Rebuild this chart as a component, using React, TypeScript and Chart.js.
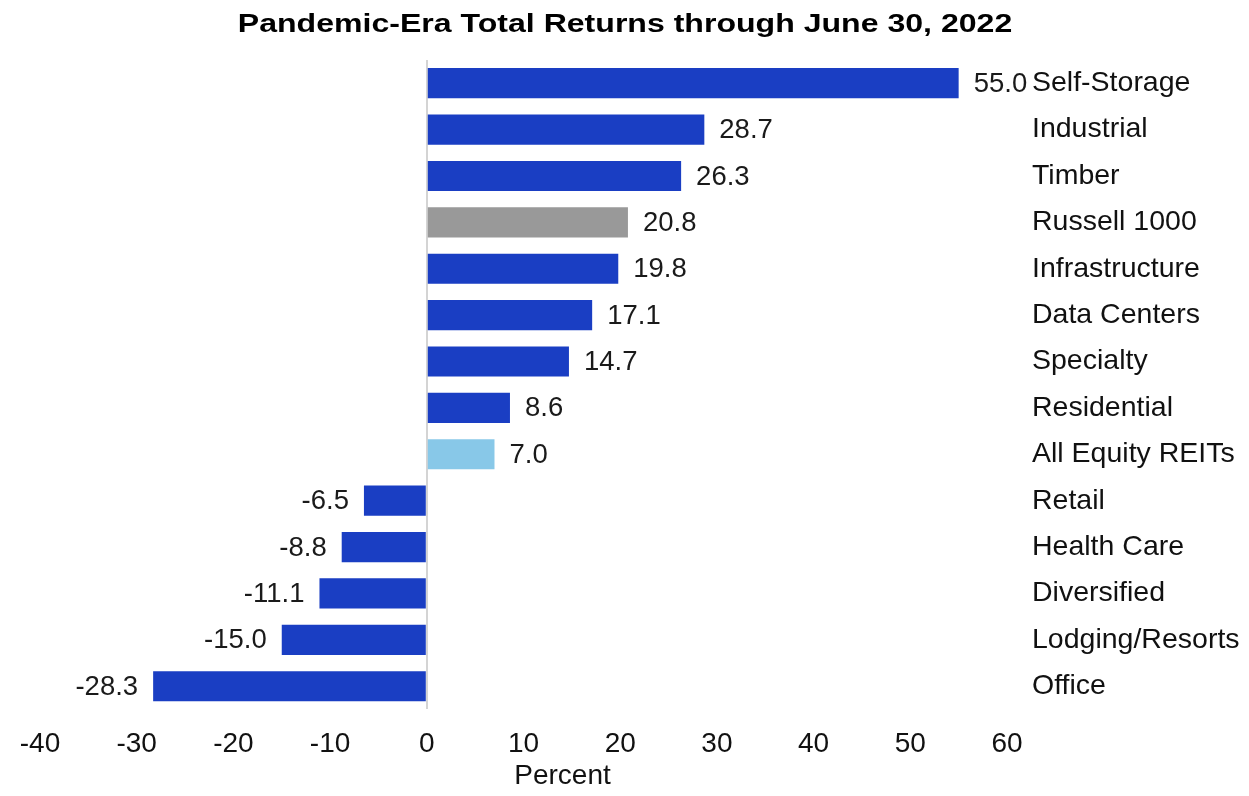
import React, { useEffect, useRef } from "react";
import { Chart, registerables } from "chart.js";

Chart.register(...registerables);

const categories = [
  "Self-Storage",
  "Industrial",
  "Timber",
  "Russell 1000",
  "Infrastructure",
  "Data Centers",
  "Specialty",
  "Residential",
  "All Equity REITs",
  "Retail",
  "Health Care",
  "Diversified",
  "Lodging/Resorts",
  "Office",
];

const returnsPct = [55.0, 28.7, 26.3, 20.8, 19.8, 17.1, 14.7, 8.6, 7.0, -6.5, -8.8, -11.1, -15.0, -28.3];

const BLUE = "#1a3ec3";
const GRAY = "#999999";
const LIGHT_BLUE = "#88c8e8";

const barColors = categories.map((c) =>
  c === "Russell 1000" ? GRAY : c === "All Equity REITs" ? LIGHT_BLUE : BLUE
);

const titleText = "Pandemic-Era Total Returns through June 30, 2022";
const xAxisTitle = "Percent";
const xMin = -40;
const xMax = 60;
const xStep = 10;

const FONT = "'Liberation Sans', Arial, Helvetica, sans-serif";

const textPlugin = {
  id: "customText",
  afterDatasetsDraw(chart: any) {
    const ctx = chart.ctx;
    const meta = chart.getDatasetMeta(0);
    ctx.save();
    ctx.font = `27.5px ${FONT}`;
    ctx.fillStyle = "#1a1a1a";
    ctx.textBaseline = "middle";
    meta.data.forEach((bar: any, i: number) => {
      const v = returnsPct[i];
      const txt = v.toFixed(1);
      if (v >= 0) {
        ctx.textAlign = "left";
        ctx.fillText(txt, bar.x + 15, bar.y + 1);
      } else {
        ctx.textAlign = "right";
        ctx.fillText(txt, bar.x - 15, bar.y + 1);
      }
    });
    ctx.restore();
  },
  afterDraw(chart: any) {
    const ctx = chart.ctx;
    const area = chart.chartArea;
    // Title (horizontally widened as in the reference)
    ctx.save();
    ctx.font = `bold 26.5px ${FONT}`;
    ctx.fillStyle = "#000";
    ctx.textAlign = "center";
    ctx.textBaseline = "alphabetic";
    ctx.translate(625, 32);
    ctx.scale(1.21, 1);
    ctx.fillText(titleText, 0, 0);
    ctx.restore();
    // Axis title
    ctx.save();
    ctx.font = `28px ${FONT}`;
    ctx.fillStyle = "#111";
    ctx.textAlign = "center";
    ctx.textBaseline = "middle";
    ctx.fillText(xAxisTitle, (area.left + area.right) / 2 + 39, 776);
    ctx.restore();
  },
};

export default function App() {
  const canvasRef = useRef<HTMLCanvasElement | null>(null);

  useEffect(() => {
    document.body.style.margin = "0";
    const canvas = canvasRef.current;
    if (!canvas) return;
    const chart = new Chart(canvas, {
      type: "bar",
      data: {
        labels: categories,
        datasets: [
          {
            data: returnsPct,
            backgroundColor: barColors,
            borderWidth: 0,
            barPercentage: 0.65,
            categoryPercentage: 1,
          },
        ],
      },
      options: {
        indexAxis: "y",
        animation: false,
        responsive: true,
        maintainAspectRatio: false,
        layout: { padding: { left: 40, right: 0, top: 60, bottom: 17 } },
        plugins: {
          legend: { display: false },
          tooltip: { enabled: false },
          title: { display: false },
        },
        scales: {
          x: {
            type: "linear",
            min: xMin,
            max: xMax,
            ticks: {
              stepSize: xStep,
              color: "#111",
              font: { family: FONT, size: 28 },
              padding: 18,
            },
            grid: {
              drawTicks: false,
              color: (c: any) => (c.tick && c.tick.value === 0 ? "#d4d4d4" : "rgba(0,0,0,0)"),
              lineWidth: 2,
            },
            border: { display: false },
          },
          y: {
            position: "right",
            ticks: {
              color: "#111",
              font: { family: FONT, size: 28.5 },
              padding: 25,
              crossAlign: "near",
            },
            grid: { display: false, drawTicks: false },
            border: { display: false },
            afterFit: (scale: any) => {
              scale.width = 242;
            },
          },
        },
      },
      plugins: [textPlugin],
    });
    return () => chart.destroy();
  }, []);

  return (
    <div style={{ width: 1249, height: 796, position: "relative" }}>
      <canvas ref={canvasRef} />
    </div>
  );
}
